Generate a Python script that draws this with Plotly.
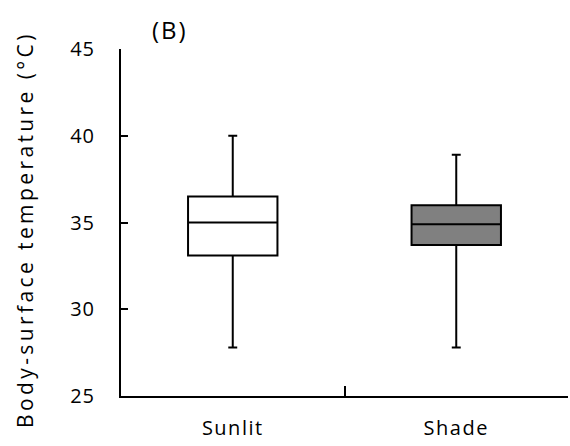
import plotly.graph_objects as go

categories = ["Sunlit", "Shade"]
lower_whisker = [27.8, 27.8]
q1 = [33.1, 33.7]
median = [35.0, 34.9]
q3 = [36.5, 36.0]
upper_whisker = [40.0, 38.9]
fill_colors = ["white", "#808080"]

y_ticks = [25, 30, 35, 40, 45]


def spaced(s, px):
    return f'<span style="letter-spacing:{px}px">{s}</span>'


fig = go.Figure()
for i, cat in enumerate(categories):
    fig.add_trace(go.Box(
        x=[cat],
        q1=[q1[i]], median=[median[i]], q3=[q3[i]],
        lowerfence=[lower_whisker[i]], upperfence=[upper_whisker[i]],
        fillcolor=fill_colors[i],
        line=dict(color="black", width=2),
        width=0.4,
        whiskerwidth=0.1,
        boxpoints=False,
        showlegend=False,
        hoverinfo="skip",
    ))

font_main = "Open Sans, Liberation Sans, sans-serif"

fig.update_layout(
    width=570, height=446,
    margin=dict(l=121, r=2, t=49, b=50),
    paper_bgcolor="white", plot_bgcolor="white",
    boxmode="overlay",
    font=dict(family=font_main, color="black"),
    xaxis=dict(
        type="category", categoryorder="array", categoryarray=categories,
        tickvals=categories, ticktext=[spaced(c, 1.5) for c in categories],
        range=[-0.5, 1.5],
        showline=True, linecolor="black", linewidth=2,
        ticks="inside", tickson="boundaries", ticklen=10, tickwidth=2, tickcolor="black",
        showgrid=False, zeroline=False,
        tickfont=dict(size=20),
        ticklabelstandoff=13,
    ),
    yaxis=dict(
        range=[25, 45], tickvals=y_ticks,
        ticktext=[spaced(str(v), 1) for v in y_ticks],
        showline=True, linecolor="black", linewidth=2,
        ticks="inside", ticklen=7, tickwidth=2, tickcolor="black",
        showgrid=False, zeroline=False,
        tickfont=dict(size=20),
        ticklabelstandoff=20,
    ),
    annotations=[
        dict(text=spaced("Body-surface temperature (°C)", 3.4), textangle=-90,
             xref="paper", yref="paper", x=(25 - 121) / 447, y=(446 - 50 - 230) / 347,
             xanchor="center", yanchor="middle", showarrow=False,
             font=dict(size=21, family=font_main)),
        dict(text=spaced("(B)", 2), xref="paper", yref="paper",
             x=(170 - 121) / 447, y=(396 - 30) / 347,
             xanchor="center", yanchor="middle", showarrow=False,
             font=dict(size=24, family=font_main)),
    ],
)

fig.write_html("out.html")
